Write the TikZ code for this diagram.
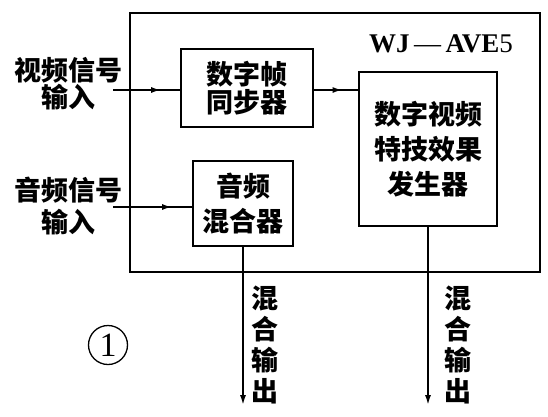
\documentclass[tikz,border=0pt]{standalone}
\usepackage{fontspec}
\setmainfont{Liberation Serif}
\newfontfamily\cjk{Noto Sans CJK SC}
\usetikzlibrary{arrows.meta,decorations.markings}
\begin{document}
\begin{tikzpicture}[x=1pt,y=-1pt,
  line width=2.2pt,
  box/.style={draw,line width=2.2pt,inner sep=0pt,align=center},
  cjktxt/.style={font={\cjk\bfseries\fontsize{27}{#1}\selectfont},align=center,inner sep=0pt},
  midarrow/.style={postaction={decorate},decoration={markings,
      mark=at position #1 with {\arrow{Latex[length=10pt,width=6pt]}}}},
  outarrow/.style={-{Latex[length=11pt,width=6pt]}}]
\useasboundingbox (0,0) rectangle (548,416);
% outer frame
\node[box,minimum width=410pt,minimum height=259pt] (frame) at (335,142.5) {};
\node[font={\fontsize{27}{28}\selectfont},inner sep=0pt] (model) at (441,44) {\textbf{WJ}\,—\,\textbf{AVE}5};
% inner blocks
\node[box,cjktxt=28,minimum width=132pt,minimum height=78pt] (sync) at (247,88) {数字帧\\同步器};
\node[box,cjktxt=35,minimum width=138pt,minimum height=154pt] (fx) at (428,149) {数字视频\\特技效果\\发生器};
\node[box,cjktxt=35,minimum width=100pt,minimum height=85pt] (mix) at (243,203.5) {音频\\混合器};
% input labels
\node[cjktxt=26] (vin) at (68,84) {视频信号\\输入};
\node[cjktxt=32] (ain) at (68,206) {音频信号\\输入};
% inputs
\coordinate (vstart) at (113,90);
\coordinate (astart) at (113,207);
\draw[midarrow=0.72] (vstart) -- (vstart -| sync.west);
\draw[midarrow=0.75] (astart) -- (astart -| mix.west);
\draw[midarrow=0.65] (vstart -| sync.east) -- (vstart -| fx.west);
% outputs
\coordinate (o1) at (243,406);
\coordinate (o2) at (428,406);
\draw[outarrow] (mix.south) -- (o1);
\draw[outarrow] (fx.south) -- (o2);
\node[cjktxt=31] (out1) at (265,345) {混\\合\\输\\出};
\node[cjktxt=31] (out2) at (458,345) {混\\合\\输\\出};
% number
\node[font={\fontsize{34}{34}\selectfont},circle,draw,line width=1.3pt,inner sep=0pt,minimum size=39pt] (num) at (108,345) {1};
\end{tikzpicture}
\end{document}
